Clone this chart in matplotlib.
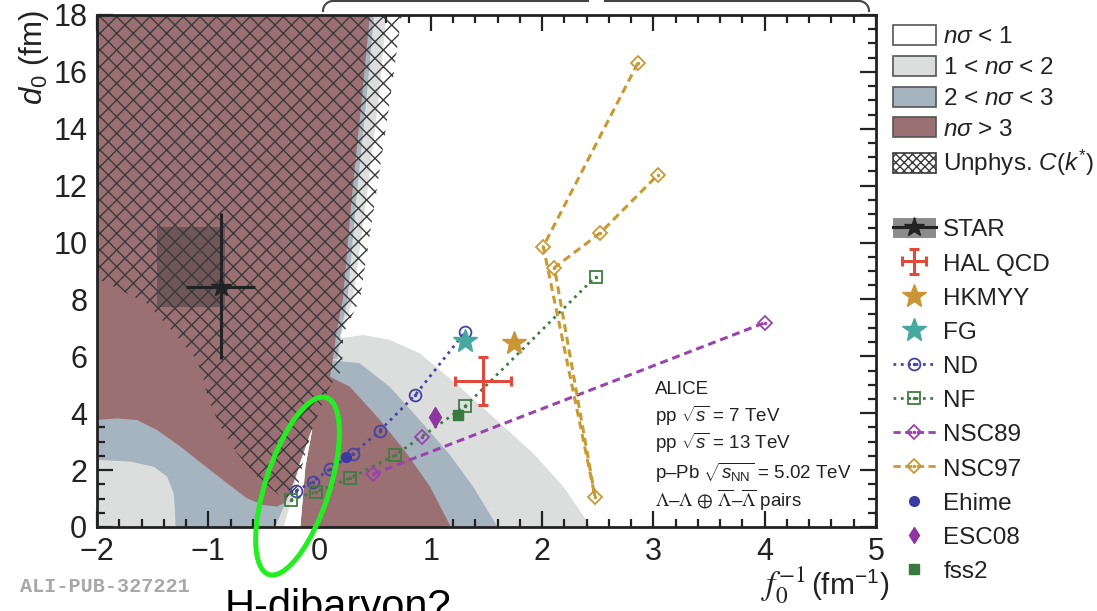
import numpy as np
import matplotlib
matplotlib.use("Agg")
import matplotlib.pyplot as plt
from matplotlib.patches import Polygon, Rectangle, Ellipse, Patch
from matplotlib.lines import Line2D
from matplotlib.ticker import MultipleLocator
from matplotlib.transforms import IdentityTransform

plt.rcParams["font.family"] = ["Liberation Sans", "DejaVu Sans"]
plt.rcParams["mathtext.fontset"] = "custom"
plt.rcParams["mathtext.rm"] = "Liberation Sans"
plt.rcParams["mathtext.it"] = "Liberation Sans:italic"
plt.rcParams["mathtext.bf"] = "Liberation Sans:bold"
plt.rcParams["mathtext.sf"] = "Liberation Sans"
plt.rcParams["hatch.linewidth"] = 1.0

W, H, DPI = 1097, 611, 100

# ---------------- colours ----------------
C_LGRAY = "#dcdedd"
C_BLUE = "#a5b4be"
C_MAROON = "#9b7073"
C_HATCH = "#3a3a3a"
C_TEXT = "#222222"

# ---------------- n-sigma regions in the (f0^-1, d0) plane ----------------
lg_right_x = [2.44, 2.19, 1.92, 1.59, 1.26, 0.90, 0.63, 0.39, 0.18, 0.00, 0.00]
lg_right_y = [0.00, 1.42, 2.59, 3.76, 4.93, 6.11, 6.58, 6.75, 6.63, 6.60, 0.00]

blue_right_x = [1.60, 1.38, 1.16, 0.90, 0.63, 0.36, 0.09, 0.00, 0.00]
blue_right_y = [0.00, 1.42, 2.59, 3.76, 4.93, 5.76, 5.87, 5.87, 0.00]

lg_top_x = [0.10, 0.60, 0.53, 0.42, 0.30, 0.20, 0.10]
lg_top_y = [18.0, 18.0, 15.0, 11.5, 8.0, 6.8, 6.8]

blue_top_x = [0.10, 0.49, 0.42, 0.33, 0.25, 0.19, 0.16, 0.10]
blue_top_y = [18.0, 18.0, 15.0, 11.5, 8.0, 6.8, 5.9, 5.9]

blue_left_x = [-2.0, -2.0, -0.20, -0.20]
blue_left_y = [0.0, 4.2, 4.2, 0.0]

lg_corner_x = [-2.0, -2.0, -1.70, -1.49, -1.37, -1.31, -1.30, -1.295]
lg_corner_y = [0.0, 2.36, 2.30, 2.12, 1.77, 1.18, 0.60, 0.0]

maroon_x = [-2.0, 0.453, 0.378, 0.288, 0.21, 0.15, 0.12, 0.094, 0.273, 0.543,
            0.783, 0.992, 1.18, -0.173, -0.128, -0.065, -0.13, -0.203, -0.293,
            -0.383, -0.503, -0.652, -0.832, -1.042, -1.251, -1.461, -1.64,
            -1.82, -2.0]
maroon_y = [18.0, 18.0, 15.0, 11.5, 8.0, 6.8, 5.9, 5.28, 4.93, 3.76,
            2.59, 1.42, 0.0, 0.0, 2.12, 3.45, 2.59, 1.54, 0.89,
            0.72, 0.77, 1.01, 1.54, 2.18, 2.83, 3.41, 3.76,
            3.82, 3.76]

gap_lg_x = [-0.40, -0.30, -0.22, -0.13, -0.065, -0.128, -0.173]
gap_lg_y = [0.0, 0.90, 1.70, 2.70, 3.45, 2.12, 0.0]

gap_white_x = [-0.323, -0.25, -0.188, -0.083, -0.065, -0.128, -0.173]
gap_white_y = [0.0, 1.00, 2.12, 3.29, 3.45, 2.12, 0.0]

unphys_x = [-2.0, 0.738, 0.633, 0.50, 0.363, 0.213, 0.20, 0.10, 0.04, -0.065,
            -0.143, -0.203, -0.308, -0.383, -0.562, -0.742, -0.892, -0.997,
            -1.042, -1.101, -1.251, -1.551, -2.0]
unphys_y = [18.0, 18.0, 15.0, 11.5, 8.0, 6.8, 5.5, 5.0, 4.47, 3.45,
            2.36, 1.30, 1.01, 1.18, 1.77, 2.59, 3.53, 4.47,
            5.17, 5.87, 6.58, 7.86, 8.74]

# ---------------- measurements and model predictions ----------------
star_x, star_y = -0.89, 8.45
star_xerr = 0.31
star_yerr_lo, star_yerr_hi = 2.55, 2.60
star_sys_x = [-1.46, -0.85]
star_sys_y = [7.72, 10.56]

hal_x, hal_y = 1.47, 5.14
hal_xerr = 0.25
hal_yerr_lo, hal_yerr_hi = 0.85, 0.83

hkmyy_x, hkmyy_y = 1.75, 6.46
fg_x, fg_y = 1.31, 6.55

nd_x = [-0.21, -0.06, 0.09, 0.30, 0.54, 0.86, 1.31]
nd_y = [1.28, 1.59, 2.03, 2.57, 3.38, 4.64, 6.87]

nf_x = [-0.26, -0.03, 0.27, 0.68, 1.31, 2.48]
nf_y = [0.95, 1.24, 1.71, 2.53, 4.25, 8.80]

nsc89_x = [0.92, 0.48, 4.00]
nsc89_y = [3.18, 1.86, 7.18]

nsc97_x = [2.86, 2.01, 2.475, 2.11, 2.52, 3.04]
nsc97_y = [16.31, 9.86, 1.07, 9.12, 10.33, 12.38]

ehime_x, ehime_y = [0.24], [2.47]
esc08_x, esc08_y = [1.04], [3.86]
fss2_x, fss2_y = [1.24], [3.94]

C_STAR = "#222222"
C_HAL = "#e04a3a"
C_HKMYY = "#c99535"
C_FG = "#46a89e"
C_ND = "#4444a6"
C_NF = "#3f7d42"
C_NSC89 = "#9a42ad"
C_NSC97 = "#c99a34"
C_EHIME = "#3a3aa0"
C_ESC08 = "#8e35a0"
C_FSS2 = "#3b7a3e"

# ---------------- figure ----------------
fig = plt.figure(figsize=(W / DPI, H / DPI), dpi=DPI)
ax = fig.add_axes([97 / W, 1 - 527 / H, 779 / W, 512 / H])
ax.set_xlim(-2, 5)
ax.set_ylim(0, 18)


def region(xs, ys, color, z):
    ax.fill(xs, ys, facecolor=color, edgecolor="none", lw=0, zorder=z)


region(lg_right_x, lg_right_y, C_LGRAY, 1.0)
region(blue_right_x, blue_right_y, C_BLUE, 1.1)
region(lg_top_x, lg_top_y, C_LGRAY, 1.2)
region(blue_top_x, blue_top_y, C_BLUE, 1.3)
region(blue_left_x, blue_left_y, C_BLUE, 1.4)
region(lg_corner_x, lg_corner_y, C_LGRAY, 1.5)
region(maroon_x, maroon_y, C_MAROON, 1.6)
region(gap_lg_x, gap_lg_y, C_LGRAY, 1.7)
region(gap_white_x, gap_white_y, "white", 1.8)
ax.add_patch(Polygon(np.column_stack([unphys_x, unphys_y]), closed=True,
                     facecolor="none", edgecolor=C_HATCH, lw=0, hatch="xx",
                     zorder=2))

# STAR
ax.add_patch(Rectangle((star_sys_x[0], star_sys_y[0]),
                       star_sys_x[1] - star_sys_x[0],
                       star_sys_y[1] - star_sys_y[0],
                       facecolor="#3a3a3a", alpha=0.45, lw=0, zorder=4))
star_eb = ax.errorbar([star_x], [star_y], xerr=[[star_xerr], [star_xerr]],
                      yerr=[[star_yerr_lo], [star_yerr_hi]], fmt="none",
                      ecolor=C_STAR, elinewidth=2.2, capsize=0, zorder=6)
ax.plot([star_x], [star_y], marker="*", ms=15, color=C_STAR, ls="none", zorder=7)

# HAL QCD
hal_eb = ax.errorbar([hal_x], [hal_y], xerr=[[hal_xerr], [hal_xerr]],
                     yerr=[[hal_yerr_lo], [hal_yerr_hi]], fmt="none",
                     ecolor=C_HAL, elinewidth=2.2, capsize=3.5, capthick=2.2,
                     zorder=6)

# model lines
dash_kw = dict(dashes=(2.6, 1.6))
ax.plot(nd_x, nd_y, ls=":", lw=2.0, color=C_ND, zorder=5)
ax.plot(nd_x, nd_y, ls="none", marker="o", ms=8.5, mfc="none", mec=C_ND, mew=1.3, zorder=6)
ax.plot(nd_x, nd_y, ls="none", marker=".", ms=3, color=C_ND, zorder=6)

ax.plot(nf_x, nf_y, ls=":", lw=2.0, color=C_NF, zorder=5)
ax.plot(nf_x, nf_y, ls="none", marker="s", ms=8.5, mfc="none", mec=C_NF, mew=1.3, zorder=6)
ax.plot(nf_x, nf_y, ls="none", marker=".", ms=3, color=C_NF, zorder=6)

ax.plot(nsc89_x[1:], nsc89_y[1:], lw=2.2, color=C_NSC89, zorder=5, **dash_kw)
ax.plot(nsc89_x, nsc89_y, ls="none", marker="D", ms=7, mfc="none", mec=C_NSC89, mew=1.3, zorder=6)
ax.plot(nsc89_x, nsc89_y, ls="none", marker=".", ms=3, color=C_NSC89, zorder=6)

ax.plot(nsc97_x, nsc97_y, lw=2.2, color=C_NSC97, zorder=5, **dash_kw)
ax.plot(nsc97_x, nsc97_y, ls="none", marker="D", ms=7, mfc="none", mec=C_NSC97, mew=1.3, zorder=6)
ax.plot(nsc97_x, nsc97_y, ls="none", marker=".", ms=3, color=C_NSC97, zorder=6)

ax.plot(ehime_x, ehime_y, ls="none", marker="o", ms=7, color=C_EHIME, zorder=7)
ax.plot(esc08_x, esc08_y, ls="none", marker="d", ms=10, color=C_ESC08, zorder=7)
ax.plot(fss2_x, fss2_y, ls="none", marker="s", ms=7, color=C_FSS2, zorder=7)

ax.plot([hkmyy_x], [hkmyy_y], ls="none", marker="*", ms=18, color=C_HKMYY, zorder=7)
ax.plot([fg_x], [fg_y], ls="none", marker="*", ms=18, color=C_FG, zorder=7)

# axes styling
for s in ax.spines.values():
    s.set_linewidth(2.0)
    s.set_color(C_TEXT)
    s.set_zorder(8)
ax.xaxis.set_major_locator(MultipleLocator(1))
ax.xaxis.set_minor_locator(MultipleLocator(0.2))
ax.yaxis.set_major_locator(MultipleLocator(2))
ax.yaxis.set_minor_locator(MultipleLocator(0.5))
ax.tick_params(which="both", direction="in", top=True, right=True, color=C_TEXT,
               width=1.6, labelsize=22, labelcolor=C_TEXT)
ax.tick_params(which="major", length=11.5, pad=7)
ax.tick_params(which="minor", length=6)

# axis titles
fig.text(34 / W, 1 - 58 / H, r"$d_{0}$ (fm)", rotation=90, ha="center",
         va="center", fontsize=22.5, color=C_TEXT)
fig.text(806 / W, 1 - 595 / H, r"$f_{0}^{-1}$", ha="right", va="baseline",
         fontsize=24, color=C_TEXT, math_fontfamily="stix")
fig.text(811 / W, 1 - 595 / H, r"(fm$^{-1}$)", ha="left", va="baseline",
         fontsize=21.5, color=C_TEXT)

# experiment text
info_lines = [
    ("ALICE", None),
    (r"pp $\sqrt{s}$ = 7 TeV", None),
    (r"pp $\sqrt{s}$ = 13 TeV", None),
    (r"p–Pb $\sqrt{s_{\mathrm{NN}}}$ = 5.02 TeV", None),
    (r"$\Lambda$–$\Lambda$ $\oplus$ $\overline{\Lambda}$–$\overline{\Lambda}$ pairs", "stix"),
]
info_y = [390, 416, 443, 473, 500]
for (txt, mf), yy in zip(info_lines, info_y):
    kw = {"math_fontfamily": mf} if mf else {}
    ax.text((655 - 97) / 779, (527 - yy) / 512, txt, transform=ax.transAxes,
            ha="left", va="center", fontsize=13.5, color=C_TEXT, zorder=9, **kw)

# legends
handles1 = [
    Patch(facecolor="white", edgecolor="#555555", lw=1.2),
    Patch(facecolor=C_LGRAY, edgecolor="#555555", lw=1.2),
    Patch(facecolor=C_BLUE, edgecolor="#555555", lw=1.2),
    Patch(facecolor=C_MAROON, edgecolor="#555555", lw=1.2),
    Patch(facecolor="white", edgecolor="#3a3a3a", lw=1.2, hatch="xxxx"),
]
labels1 = [r"$n\sigma$ < 1", r"1 < $n\sigma$ < 2", r"2 < $n\sigma$ < 3",
           r"$n\sigma$ > 3", r"Unphys. $C(k^{*})$"]
leg_kw = dict(loc="upper left", frameon=False, fontsize=17.5, borderpad=0,
              borderaxespad=0, handletextpad=0.32, labelcolor=C_TEXT)
fig.legend(handles1, labels1, bbox_to_anchor=(893 / W, 1 - 25 / H),
           handlelength=1.75, handleheight=0.9, labelspacing=0.30, **leg_kw)


def line_marker(color, ls, marker, ms, dashes=None):
    kw = dict(color=color, lw=2.0, marker=marker, ms=ms, mfc="none",
              mec=color, mew=1.3)
    if dashes is not None:
        kw["dashes"] = dashes
    else:
        kw["ls"] = ls
    return (Line2D([0], [0], **kw),
            Line2D([0], [0], ls="none", marker=".", ms=3, color=color))


handles2 = [
    (Patch(facecolor="#8c8c8c", edgecolor="none"),
     Line2D([0], [0], color=C_STAR, lw=2.2),
     Line2D([0], [0], ls="none", marker="*", ms=15, color=C_STAR)),
    hal_eb,
    Line2D([0], [0], ls="none", marker="*", ms=18, color=C_HKMYY),
    Line2D([0], [0], ls="none", marker="*", ms=18, color=C_FG),
    line_marker(C_ND, ":", "o", 8.5),
    line_marker(C_NF, ":", "s", 8.5),
    line_marker(C_NSC89, None, "D", 7, dashes=(2.6, 1.6)),
    line_marker(C_NSC97, None, "D", 7, dashes=(2.6, 1.6)),
    Line2D([0], [0], ls="none", marker="o", ms=7, color=C_EHIME),
    Line2D([0], [0], ls="none", marker="d", ms=8.5, color=C_ESC08),
    Line2D([0], [0], ls="none", marker="s", ms=7, color=C_FSS2),
]
labels2 = ["STAR", "HAL QCD", "HKMYY", "FG", "ND", "NF", "NSC89", "NSC97",
           "Ehime", "ESC08", "fss2"]
fig.legend(handles2, labels2, bbox_to_anchor=(893 / W, 1 - 218 / H),
           handlelength=1.75, handleheight=0.9, labelspacing=0.44,
           numpoints=1, **leg_kw)

# publication tag and annotation
fig.text(20 / W, 1 - 587 / H, "ALI-PUB-327221", family="Liberation Mono",
         weight="bold", fontsize=14.5, color="#a8a8a8", ha="left", va="center")
fig.text(225 / W, -8 / H, "H-dibaryon?", fontsize=30, color="black",
         ha="left", va="baseline")

centre = ax.transData.transform((-0.198, 1.44))
ax.add_patch(Ellipse(centre, width=186, height=64, angle=72.0,
                     transform=IdentityTransform(), fill=False,
                     edgecolor="#22ee22", lw=3.6, clip_on=False, zorder=10))

# bracket over the top axis
def px(xp, yp):
    return xp / W, 1 - yp / H

r = 10
th = np.linspace(np.pi, np.pi / 2, 12)
left_arc = [px(333 + r * np.cos(t), 11 - r * np.sin(t)) for t in th]
th2 = np.linspace(np.pi / 2, 0, 12)
right_arc = [px(859 + r * np.cos(t), 11 - r * np.sin(t)) for t in th2]
seg1 = left_arc + [px(588, 1)]
seg2 = [px(605, 1)] + right_arc
for seg in (seg1, seg2):
    xs, ys = zip(*seg)
    fig.add_artist(Line2D(xs, ys, color="#444444", lw=1.5,
                          transform=fig.transFigure))

fig.savefig("out.png", dpi=DPI)
